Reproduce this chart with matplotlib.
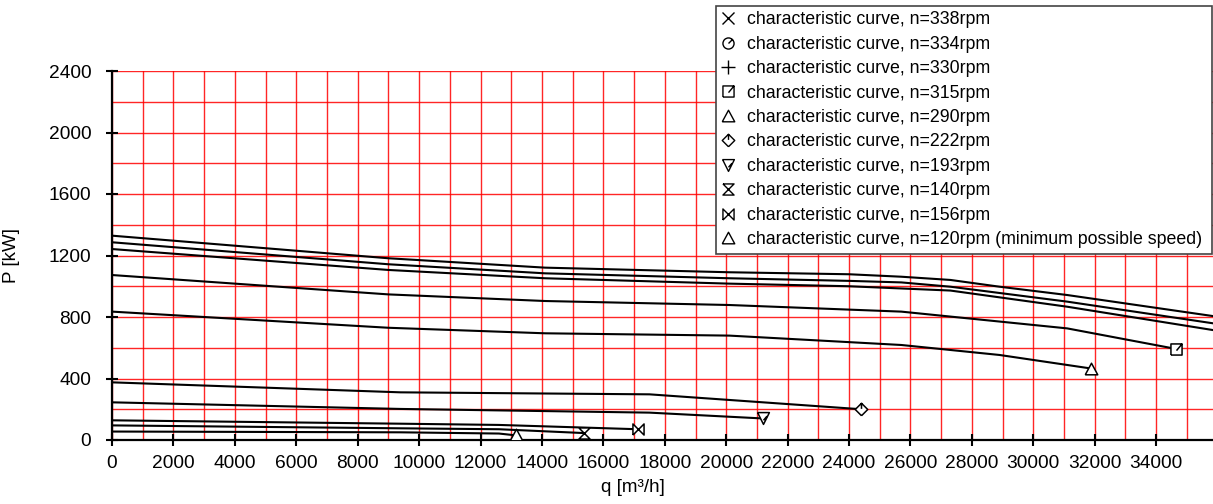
import matplotlib
matplotlib.use("Agg")
import matplotlib.pyplot as plt
from matplotlib.path import Path
from matplotlib.lines import Line2D

plt.rcParams['font.family'] = ['Liberation Sans', 'DejaVu Sans']

# ---- data (q in m3/h, P in kW) ----
labels = [
    "characteristic curve, n=338rpm",
    "characteristic curve, n=334rpm",
    "characteristic curve, n=330rpm",
    "characteristic curve, n=315rpm",
    "characteristic curve, n=290rpm",
    "characteristic curve, n=222rpm",
    "characteristic curve, n=193rpm",
    "characteristic curve, n=140rpm",
    "characteristic curve, n=156rpm",
    "characteristic curve, n=120rpm (minimum possible speed)",
]

q_338 = [0, 9000, 14100, 20100, 24000, 25700, 27300, 28900, 31100, 35850]
P_338 = [1329, 1182, 1121, 1091, 1078, 1062, 1041, 997, 943, 806]

q_334 = [0, 9000, 14100, 20100, 24000, 25700, 27300, 31100, 35850]
P_334 = [1286, 1143, 1084, 1052, 1035, 1025, 997, 900, 759]

q_330 = [0, 9000, 14100, 20100, 24000, 27300, 31100, 35850]
P_330 = [1242, 1106, 1052, 1017, 1000, 972, 867, 715]

q_315 = [0, 9000, 14100, 20100, 25700, 31100, 34630]
P_315 = [1073, 947, 904, 878, 835, 726, 593]

q_290 = [0, 9000, 14100, 20100, 25700, 28900, 31880]
P_290 = [835, 730, 694, 679, 618, 553, 465]

q_222 = [0, 9400, 17500, 24400]
P_222 = [375, 310, 297, 200]

q_193 = [0, 9400, 17500, 21200]
P_193 = [245, 202, 178, 140]

q_140 = [0, 9400, 12600, 15380]
P_140 = [95, 76, 70, 45]

q_156 = [0, 9400, 12600, 17120]
P_156 = [128, 106, 98, 70]

q_120 = [0, 9400, 12600, 13160]
P_120 = [55, 50, 42, 30]

series_q = [q_338, q_334, q_330, q_315, q_290, q_222, q_193, q_140, q_156, q_120]
series_P = [P_338, P_334, P_330, P_315, P_290, P_222, P_193, P_140, P_156, P_120]

x_ticks = list(range(0, 34001, 2000))
y_ticks = list(range(0, 2401, 400))

# ---- custom markers ----
def compound(*paths):
    return Path.make_compound_path(*paths)

M, L = Path.MOVETO, Path.LINETO
circ_tick = compound(Path.unit_circle(), Path([(0, 0), (0.75, 0.75)], [M, L]))
sq_tick = compound(Path([(-1, -1), (1, -1), (1, 1), (-1, 1), (-1, -1)], [M, L, L, L, L]),
                   Path([(0, -0.2), (1, 1)], [M, L]))
dia_tick = compound(Path([(0, -1), (1, 0), (0, 1), (-1, 0), (0, -1)], [M, L, L, L, L]),
                    Path([(0, 0.1), (0, 1)], [M, L]))
vtri_tick = compound(Path([(-1, 1), (1, 1), (0, -1), (-1, 1)], [M, L, L, L]),
                     Path([(0, -0.3), (0.6, 0.4)], [M, L]))
hourglass = Path([(-1, 1), (1, 1), (-1, -1), (1, -1), (-1, 1)], [M, L, L, L, L])
bowtie = Path([(-1, -1), (-1, 1), (1, -1), (1, 1), (-1, -1)], [M, L, L, L, L])
tri = Path([(-1, -0.85), (1, -0.85), (0, 1), (-1, -0.85)], [M, L, L, L])

markers = ['x', circ_tick, '+', sq_tick, tri, dia_tick, vtri_tick, hourglass, bowtie, tri]
msizes = [9, 8, 10, 8, 9, 9, 8.5, 8, 8, 9]

W, H = 1213, 504
fig = plt.figure(figsize=(W / 100, H / 100), dpi=100)
ax = fig.add_axes([112 / W, 1 - 440 / H, 1 - 112 / W, (440 - 71) / H])

xmax = 35850
ax.set_xlim(0, xmax)
ax.set_ylim(0, 2400)

ax.set_xticks(x_ticks)
ax.set_xticks(range(0, 36000, 1000), minor=True)
ax.set_yticks(y_ticks)
ax.set_yticks(range(0, 2401, 200), minor=True)
ax.set_xticklabels([str(v) for v in x_ticks])
ax.set_yticklabels([str(v) for v in y_ticks])

ax.grid(True, which='both', color='#ff0000', lw=1.0, alpha=0.85, zorder=0)
ax.set_axisbelow(True)

for s in ['top', 'right']:
    ax.spines[s].set_visible(False)
for s in ['left', 'bottom']:
    ax.spines[s].set_linewidth(1.6)
    ax.spines[s].set_color('black')

ax.tick_params(which='major', direction='inout', length=9, width=1.5, labelsize=13.8, color='black')
ax.tick_params(which='minor', length=0)
ax.tick_params(axis='x', pad=6.0)
ax.tick_params(axis='y', pad=10.5)

for i, (q, P) in enumerate(zip(series_q, series_P)):
    ax.plot(q, P, color='black', lw=1.5, zorder=3, solid_joinstyle='round')
    if q[-1] < xmax:
        ax.plot([q[-1]], [P[-1]], linestyle='none', marker=markers[i], ms=msizes[i],
                mfc='white', mec='black', mew=1.1, zorder=4)

ax.set_ylabel('P [kW]', fontsize=13.5)
ax.yaxis.set_label_coords(-(112 - 19.5) / (W - 112), 0.5)
fig.text(633 / W, 1 - 488 / H, 'q [m³/h]', fontsize=13.5, ha='center', va='center')

handles = [Line2D([], [], linestyle='none', marker=markers[i], ms=msizes[i],
                  mfc='none', mec='black', mew=1.0) for i in range(len(labels))]
lx0, lx1, ly0, ly1 = 715.7, 1211.7, 6, 252
leg = fig.legend(handles, labels, loc='upper left',
                 bbox_to_anchor=(lx0 / W, 1 - ly1 / H, (lx1 - lx0) / W, (ly1 - ly0) / H),
                 mode='expand',
                 bbox_transform=fig.transFigure, fontsize=12.75, frameon=True, fancybox=False,
                 borderpad=0.3, handlelength=0.75, handletextpad=0.69, labelspacing=0.42,
                 borderaxespad=0, framealpha=1)
leg.get_frame().set_edgecolor('#444444')
leg.get_frame().set_linewidth(1.2)

fig.savefig('out.png', dpi=100)
